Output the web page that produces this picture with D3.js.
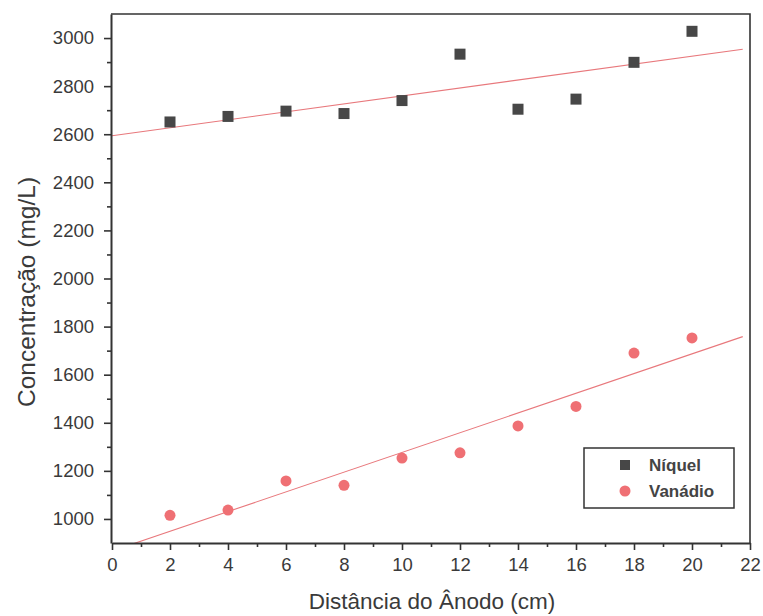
<!DOCTYPE html>
<html>
<head>
<meta charset="utf-8">
<script src="https://cdn.jsdelivr.net/npm/d3@7"></script>
<style>
  html, body { margin: 0; padding: 0; background: #fff; }
  svg { display: block; font-family: Arial, "Liberation Sans", sans-serif; }
</style>
</head>
<body>
<svg id="chart" width="763" height="616"></svg>
<script>
// ---- data ----
const distances = [2, 4, 6, 8, 10, 12, 14, 16, 18, 20];
const niquel = [2651, 2674, 2696, 2686, 2740, 2933, 2704, 2746, 2899, 3028];
const vanadio = [1015, 1037, 1158, 1140, 1253, 1275, 1387, 1468, 1690, 1753];
const seriesNames = ["Níquel", "Vanádio"];
const xTicks = [0, 2, 4, 6, 8, 10, 12, 14, 16, 18, 20, 22];
const yTicks = [1000, 1200, 1400, 1600, 1800, 2000, 2200, 2400, 2600, 2800, 3000];
const xTitle = "Distância do Ânodo (cm)";
const yTitle = "Concentração (mg/L)";

// ---- layout ----
const svg = d3.select("#chart");
const L = 111, R = 750, T = 14, B = 543;
const x = d3.scaleLinear().domain([0, 22]).range([L + 1, R]);
const y = d3.scaleLinear().domain([900, 3100]).range([B, T]);

const axisColor = "#333";
const textColor = "#3a3a3a";

// linear regression fits
function fit(xs, ys) {
  const n = xs.length;
  const mx = d3.mean(xs), my = d3.mean(ys);
  let sxy = 0, sxx = 0;
  for (let i = 0; i < n; i++) { sxy += (xs[i] - mx) * (ys[i] - my); sxx += (xs[i] - mx) ** 2; }
  const b = sxy / sxx;
  return { a: my - b * mx, b };
}

svg.append("clipPath").attr("id", "clip")
  .append("rect").attr("x", L).attr("y", T).attr("width", R - L).attr("height", B - T);

const plot = svg.append("g").attr("clip-path", "url(#clip)");
const lineColor = "#e8787c";
[niquel, vanadio].forEach(vals => {
  const f = fit(distances, vals);
  const pts = [0, 21.75].map(d => [d, f.a + f.b * d]);
  plot.append("path")
    .attr("d", d3.line().x(d => x(d[0])).y(d => y(d[1]))(pts))
    .attr("stroke", lineColor).attr("stroke-width", 1.1).attr("fill", "none");
});

// points
const sq = 11;
svg.append("g").selectAll("rect").data(distances.map((d, i) => [d, niquel[i]]))
  .join("rect")
  .attr("x", d => x(d[0]) - sq / 2).attr("y", d => y(d[1]) - sq / 2)
  .attr("width", sq).attr("height", sq).attr("fill", "#474747");

svg.append("g").selectAll("circle").data(distances.map((d, i) => [d, vanadio[i]]))
  .join("circle")
  .attr("cx", d => x(d[0])).attr("cy", d => y(d[1])).attr("r", 5.5)
  .attr("fill", "#ef7074");

// frame (top, right)
svg.append("path")
  .attr("d", `M${L},${T}H${R}V${B}`)
  .attr("stroke", axisColor).attr("stroke-width", 1.6).attr("fill", "none");

// axes
const xAxis = svg.append("g").attr("transform", `translate(0,${B})`)
  .call(d3.axisBottom(x).tickValues(xTicks).tickSize(7).tickSizeOuter(0).tickPadding(8).tickFormat(d3.format("d")));
const xMinor = svg.append("g").attr("transform", `translate(0,${B})`)
  .call(d3.axisBottom(x).tickValues(d3.range(1, 22, 2)).tickSize(4).tickSizeOuter(0).tickFormat(""));
const yAxis = svg.append("g").attr("transform", `translate(${L},0)`)
  .call(d3.axisLeft(y).tickValues(yTicks).tickSize(7).tickSizeOuter(0).tickPadding(10).tickFormat(d3.format("d")));
const yMinor = svg.append("g").attr("transform", `translate(${L},0)`)
  .call(d3.axisLeft(y).tickValues(d3.range(1100, 3100, 200)).tickSize(4).tickSizeOuter(0).tickFormat(""));

[xAxis, xMinor, yAxis, yMinor].forEach(g => {
  g.select(".domain").attr("stroke", axisColor).attr("stroke-width", 2);
  g.selectAll(".tick line").attr("stroke", axisColor).attr("stroke-width", 1.6);
  g.selectAll(".tick text").attr("fill", textColor).attr("font-size", 18.5)
    .attr("font-family", "Arial, 'Liberation Sans', sans-serif");
});
xMinor.select(".domain").remove();
yMinor.select(".domain").remove();

// titles
svg.append("text").attr("x", 432).attr("y", 609).attr("text-anchor", "middle")
  .attr("font-size", 22.5).attr("fill", textColor).text(xTitle);
svg.append("text").attr("transform", "translate(35,292) rotate(-90)").attr("text-anchor", "middle")
  .attr("font-size", 24.5).attr("fill", textColor).text(yTitle);

// legend
const lg = svg.append("g");
lg.append("rect").attr("x", 584).attr("y", 448).attr("width", 150).attr("height", 60)
  .attr("fill", "#fff").attr("stroke", axisColor).attr("stroke-width", 1.5);
lg.append("rect").attr("x", 625 - 5).attr("y", 465 - 5).attr("width", 10).attr("height", 10).attr("fill", "#474747");
lg.append("circle").attr("cx", 625).attr("cy", 491).attr("r", 5.5).attr("fill", "#ef7074");
lg.append("text").attr("x", 649).attr("y", 471).attr("font-size", 17).attr("font-weight", "bold")
  .attr("fill", "#444").text(seriesNames[0]);
lg.append("text").attr("x", 649).attr("y", 497).attr("font-size", 17).attr("font-weight", "bold")
  .attr("fill", "#444").text(seriesNames[1]);
</script>
</body>
</html>
